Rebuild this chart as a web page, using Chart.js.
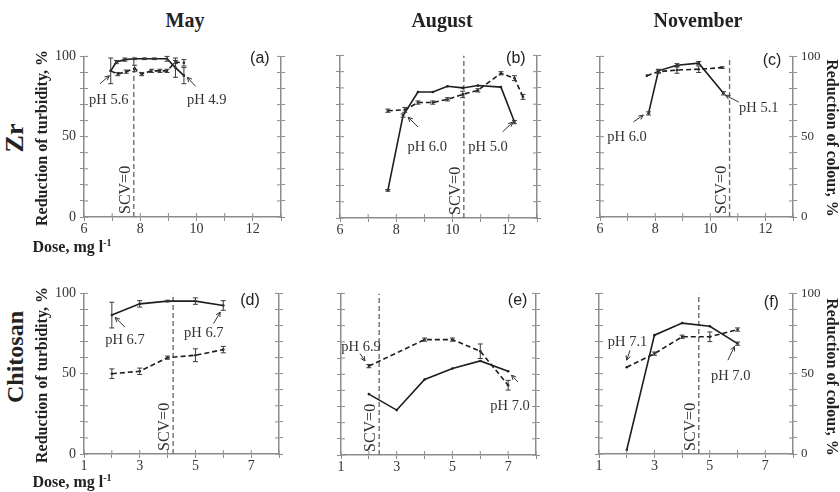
<!DOCTYPE html>
<html>
<head>
<meta charset="utf-8">
<script src="https://cdn.jsdelivr.net/npm/chart.js@4.4.1/dist/chart.umd.min.js"></script>
<style>
  body { margin: 0; background: #fff; }
  #wrap { position: relative; width: 840px; height: 492px; overflow: hidden; font-family: "Liberation Serif", "Times New Roman", serif; color: #222; }
  #wrap canvas { position: absolute; }
  .t { position: absolute; font-weight: bold; white-space: nowrap; line-height: 1; }
  .t sup { font-size: 10px; vertical-align: 6px; line-height: 0; }
</style>
</head>
<body>
<div id="wrap"></div>
<script>
// ---- data ----
// Zr, May
const zrMayDoseT = [6.95, 7.15, 7.45, 7.8, 8.15, 8.5, 8.95, 9.25, 9.55];
const zrMayTurb = [91, 96.5, 98, 98.5, 98.5, 98.5, 98.5, 93, 88];
const zrMayTurbErr = [8, 1, 1, 0.5, 0.5, 0.5, 1.5, 6, 5];
const zrMayDoseC = [6.95, 7.2, 7.5, 7.8, 8.05, 8.4, 8.7, 8.95, 9.25, 9.55];
const zrMayColour = [91, 89, 90.5, 92.5, 89, 91, 91, 91, 96.5, 96];
const zrMayColourErr = [0, 1, 1, 2, 1, 1, 1, 1, 1, 2];
// Zr, August
const zrAugDoseT = [7.7, 8.24, 8.77, 9.3, 9.82, 10.36, 10.9, 11.72, 12.2];
const zrAugTurb = [17, 63, 77.5, 77.5, 81, 80, 81.5, 80.5, 59];
const zrAugTurbErr = [0.5, 1, 0, 0, 0, 0, 0, 0, 1];
const zrAugDoseC = [7.7, 8.3, 8.77, 9.3, 9.82, 10.36, 10.9, 11.72, 12.2, 12.5];
const zrAugColour = [66, 66.5, 71, 71, 73, 76, 78.5, 89, 86, 74.5];
const zrAugColourErr = [1, 1.5, 1, 1, 1, 2, 1, 1, 1.5, 1.5];
// Zr, November
const zrNovDoseT = [7.76, 8.12, 8.79, 9.58, 10.48];
const zrNovTurb = [64.5, 91, 94.5, 95.8, 77];
const zrNovTurbErr = [1, 1, 1, 1, 1];
const zrNovDoseC = [7.7, 8.12, 8.79, 9.58, 10.43];
const zrNovColour = [88, 90.5, 91.5, 92, 93];
const zrNovColourErr = [0, 1, 2, 2, 0.5];
// Chitosan
const chiDose = [2, 3, 4, 5, 6];
const chiMayTurb = [86.5, 93.5, 95.2, 95.2, 92.5];
const chiMayTurbErr = [8, 2, 0.5, 2, 3];
const chiMayColour = [50, 51.5, 60, 61.5, 65];
const chiMayColourErr = [3, 2, 1, 4, 2];
const chiAugDoseT = [2, 3, 4, 5, 6, 7];
const chiAugTurb = [37.7, 27.8, 46.7, 53.5, 58.2, 51.8];
const chiAugTurbErr = [0, 0, 0, 0, 0, 0];
const chiAugDoseC = [2, 4, 5, 6, 7];
const chiAugColour = [55, 71.4, 71.4, 64.2, 43.2];
const chiAugColourErr = [1, 1, 1, 4.5, 3];
const chiNovTurb = [2.5, 74, 81.5, 79.5, 68.7];
const chiNovTurbErr = [0, 0, 0, 0, 1];
const chiNovColour = [54, 62.5, 73, 73, 77.5];
const chiNovColourErr = [0, 1, 1, 3, 1];
// dose where SCV = 0, per panel a..f
const scvDose = [7.77, 10.4, 10.7, 4.2, 2.37, 4.6];
const yTickLabels = [0, 50, 100];

const pts = (xs, ys) => xs.map((x, i) => ({ x: x, y: ys[i] }));

const panels = [
  { L: 84, R: 281, T: 56, B: 217, xMin: 6, xMax: 13, col: 0, letter: '(a)', lx: 12.25, ly: 98.8,
    tx: zrMayDoseT, ty: zrMayTurb, te: zrMayTurbErr, cx: zrMayDoseC, cy: zrMayColour, ce: zrMayColourErr,
    notes: [{ t: 'pH 5.6', x: 6.88, y: 72.7, ax: 6.57, ay: 83, bx: 6.9, by: 88 },
            { t: 'pH 4.9', x: 10.36, y: 72.7, ax: 9.96, ay: 81.4, bx: 9.67, by: 87 }] },
  { L: 340, R: 537, T: 55, B: 218, xMin: 6, xMax: 13, col: 1, letter: '(b)', lx: 12.25, ly: 98,
    tx: zrAugDoseT, ty: zrAugTurb, te: zrAugTurbErr, cx: zrAugDoseC, cy: zrAugColour, ce: zrAugColourErr,
    notes: [{ t: 'pH 6.0', x: 9.1, y: 43.7, ax: 8.77, ay: 56, bx: 8.42, by: 62 },
            { t: 'pH 5.0', x: 11.26, y: 43.7, ax: 11.78, ay: 53, bx: 12.14, by: 59 }] },
  { L: 600, R: 793, T: 56, B: 217, xMin: 6, xMax: 13, col: 2, letter: '(c)', lx: 12.24, ly: 97.5,
    tx: zrNovDoseT, ty: zrNovTurb, te: zrNovTurbErr, cx: zrNovDoseC, cy: zrNovColour, ce: zrNovColourErr,
    notes: [{ t: 'pH 6.0', x: 6.98, y: 49.9, ax: 7.21, ay: 59.2, bx: 7.57, by: 63.4 },
            { t: 'pH 5.1', x: 11.76, y: 67.5, ax: 11.03, ay: 71.6, bx: 10.55, by: 75.8 }] },
  { L: 84, R: 279, T: 293, B: 454, xMin: 1, xMax: 8, col: 0, letter: '(d)', lx: 6.96, ly: 95.6,
    tx: chiDose, ty: chiMayTurb, te: chiMayTurbErr, cx: chiDose, cy: chiMayColour, ce: chiMayColourErr,
    notes: [{ t: 'pH 6.7', x: 2.47, y: 70.8, ax: 2.47, ay: 79, bx: 2.12, by: 85 },
            { t: 'pH 6.7', x: 5.3, y: 75, ax: 5.65, ay: 81.2, bx: 5.89, by: 88.4 }] },
  { L: 341, R: 536, T: 293, B: 455, xMin: 1, xMax: 8, col: 1, letter: '(e)', lx: 7.34, ly: 95.6,
    tx: chiAugDoseT, ty: chiAugTurb, te: chiAugTurbErr, cx: chiAugDoseC, cy: chiAugColour, ce: chiAugColourErr,
    notes: [{ t: 'pH 6.9', x: 1.72, y: 66.5, ax: 1.68, ay: 62.8, bx: 1.86, by: 58.2 },
            { t: 'pH 7.0', x: 7.07, y: 30.4, ax: 7.35, ay: 45.2, bx: 7.12, by: 49.4 }] },
  { L: 599, R: 793, T: 293, B: 454, xMin: 1, xMax: 8, col: 2, letter: '(f)', lx: 7.22, ly: 94.5,
    tx: chiDose, ty: chiNovTurb, te: chiNovTurbErr, cx: chiDose, cy: chiNovColour, ce: chiNovColourErr,
    notes: [{ t: 'pH 7.1', x: 2.03, y: 69.8, ax: 2.12, ay: 64.6, bx: 2.0, by: 58.4 },
            { t: 'pH 7.0', x: 5.75, y: 48.4, ax: 5.65, ay: 58.4, bx: 5.89, by: 67 }] }
];

const AXIS = '#8c8c8c';
const INK = '#1e1e1e';
const SERIF = 'Liberation Serif';

// inner half of the crossing ticks, error bars, SCV label, pH notes, panel letter
const extras = {
  id: 'extras',
  afterDatasetsDraw(chart, args, o) {
    const p = o.panel, ctx = chart.ctx;
    const xs = chart.scales.x, ys = chart.scales.y, a = chart.chartArea;
    ctx.save();
    // error bars
    ctx.strokeStyle = '#3a3a3a';
    ctx.lineWidth = 1;
    chart.data.datasets.forEach(ds => {
      if (!ds.err) return;
      ds.data.forEach((d, i) => {
        const e = ds.err[i];
        if (!e) return;
        const px = xs.getPixelForValue(d.x);
        const y1 = ys.getPixelForValue(d.y + e), y2 = ys.getPixelForValue(d.y - e);
        ctx.beginPath();
        ctx.moveTo(px, y1); ctx.lineTo(px, y2);
        ctx.moveTo(px - 2.5, y1); ctx.lineTo(px + 2.5, y1);
        ctx.moveTo(px - 2.5, y2); ctx.lineTo(px + 2.5, y2);
        ctx.stroke();
      });
    });
    // inner ticks
    ctx.strokeStyle = AXIS;
    ctx.beginPath();
    xs.ticks.forEach(t => { const px = xs.getPixelForValue(t.value); ctx.moveTo(px, a.bottom); ctx.lineTo(px, a.bottom - 4); });
    ys.ticks.forEach(t => {
      const py = ys.getPixelForValue(t.value);
      ctx.moveTo(a.left, py); ctx.lineTo(a.left + 4, py);
      ctx.moveTo(a.right, py); ctx.lineTo(a.right - 4, py);
    });
    ctx.stroke();
    // SCV=0 label
    const sx = xs.getPixelForValue(o.scv);
    ctx.fillStyle = '#333';
    ctx.font = '16px "' + SERIF + '"';
    ctx.save();
    ctx.translate(sx - 8, a.bottom - 3);
    ctx.rotate(-Math.PI / 2);
    ctx.textAlign = 'left';
    ctx.textBaseline = 'middle';
    ctx.fillText('SCV=0', 0, 0);
    ctx.restore();
    // pH notes with arrows
    ctx.font = '14.5px "' + SERIF + '"';
    ctx.textAlign = 'center';
    ctx.textBaseline = 'middle';
    ctx.strokeStyle = '#333';
    p.notes.forEach(n => {
      ctx.fillText(n.t, xs.getPixelForValue(n.x), ys.getPixelForValue(n.y));
      const x1 = xs.getPixelForValue(n.ax), y1 = ys.getPixelForValue(n.ay);
      const x2 = xs.getPixelForValue(n.bx), y2 = ys.getPixelForValue(n.by);
      const ang = Math.atan2(y2 - y1, x2 - x1);
      ctx.beginPath();
      ctx.moveTo(x1, y1); ctx.lineTo(x2, y2);
      ctx.moveTo(x2 - 5 * Math.cos(ang - 0.45), y2 - 5 * Math.sin(ang - 0.45));
      ctx.lineTo(x2, y2);
      ctx.lineTo(x2 - 5 * Math.cos(ang + 0.45), y2 - 5 * Math.sin(ang + 0.45));
      ctx.stroke();
    });
    // panel letter
    ctx.font = '16px "Liberation Sans"';
    ctx.fillStyle = '#222';
    ctx.fillText(p.letter, xs.getPixelForValue(p.lx), ys.getPixelForValue(p.ly));
    ctx.restore();
  }
};

const wrap = document.getElementById('wrap');

panels.forEach((p, k) => {
  const cv = document.createElement('canvas');
  const w = p.R - p.L + 80, h = p.B - p.T + 40;
  cv.width = w; cv.height = h;
  cv.style.left = (p.L - 40) + 'px';
  cv.style.top = (p.T - 12) + 'px';
  wrap.appendChild(cv);

  const tickFont = { family: SERIF, size: 14 };
  const lineDs = (xs, ys, err, dashed) => ({
    data: pts(xs, ys), err: err, showLine: true,
    borderColor: INK, borderWidth: 1.6, borderDash: dashed ? [5, 3] : [],
    pointRadius: 1.3, pointBackgroundColor: INK, pointBorderWidth: 0
  });

  new Chart(cv, {
    type: 'scatter',
    data: {
      datasets: [
        lineDs(p.tx, p.ty, p.te, false),
        lineDs(p.cx, p.cy, p.ce, true),
        { data: [{ x: scvDose[k], y: 0 }, { x: scvDose[k], y: 100 }], showLine: true,
          borderColor: '#6e6e6e', borderWidth: 1.4, borderDash: [5, 3], pointRadius: 0 }
      ]
    },
    options: {
      responsive: false,
      animation: false,
      devicePixelRatio: 1,
      layout: { padding: { left: 10, right: 10, top: 12, bottom: 0 } },
      plugins: { legend: { display: false }, tooltip: { enabled: false }, extras: { panel: p, scv: scvDose[k] } },
      scales: {
        x: {
          type: 'linear', min: p.xMin, max: p.xMax,
          afterFit: s => { s.height = 28; },
          border: { color: AXIS, width: 1.5 },
          grid: { drawOnChartArea: false, tickLength: 4, color: AXIS },
          ticks: { stepSize: 1, autoSkip: false, maxRotation: 0, padding: 0, color: '#333', font: tickFont,
                   callback: v => ((v - p.xMin) % 2 === 0 && v < p.xMax ? String(v) : '') }
        },
        y: {
          position: 'left', min: 0, max: 100,
          afterFit: s => { s.width = 30; },
          border: { color: AXIS, width: 1.5 },
          grid: { drawOnChartArea: false, tickLength: 4, color: AXIS },
          ticks: { stepSize: 10, autoSkip: false, padding: 4, color: '#333', font: tickFont,
                   callback: v => (p.col === 0 && yTickLabels.includes(v) ? String(v) : '') }
        },
        y2: {
          position: 'right', min: 0, max: 100, display: true,
          afterFit: s => { s.width = 30; },
          border: { color: AXIS, width: 1.5 },
          grid: { drawOnChartArea: false, tickLength: 4, color: AXIS },
          ticks: { stepSize: 10, autoSkip: false, padding: 4, color: '#333', font: { family: SERIF, size: 13 },
                   callback: v => (p.col === 2 && yTickLabels.includes(v) ? String(v) : '') }
        }
      }
    },
    plugins: [extras]
  });
});

// text around the panels
function label(html, x, y, size, rot) {
  const d = document.createElement('div');
  d.className = 't';
  d.innerHTML = html;
  d.style.left = x + 'px';
  d.style.top = y + 'px';
  d.style.fontSize = size + 'px';
  d.style.transform = 'translate(-50%,-50%)' + (rot ? ' rotate(' + rot + 'deg)' : '');
  wrap.appendChild(d);
}
label('May', 185, 20, 20);
label('August', 442, 20, 20);
label('November', 698, 20, 20);
label('Zr', 15, 138, 26, -90);
label('Chitosan', 15, 357, 24, -90);
label('Reduction of turbidity, %', 42, 138, 16, -90);
label('Reduction of turbidity, %', 42, 375, 16, -90);
label('Reduction of colour, %', 832, 138, 16, 90);
label('Reduction of colour, %', 832, 377, 16, 90);
label('Dose, mg l<sup>-1</sup>', 72, 247, 16);
label('Dose, mg l<sup>-1</sup>', 72, 482, 16);
</script>
</body>
</html>
